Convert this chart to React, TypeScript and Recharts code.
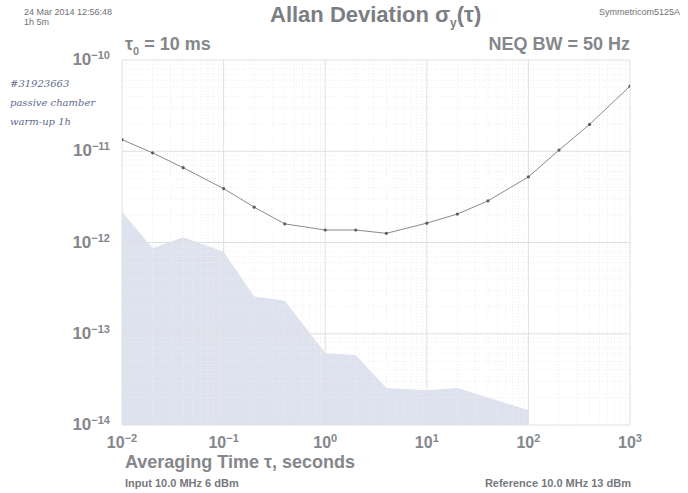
import { ComposedChart, Line, Area, XAxis, YAxis, ReferenceLine } from 'recharts'

// averaging times (s)
const tau = [0.01, 0.02, 0.04, 0.1, 0.2, 0.4, 1, 2, 4, 10, 20, 40, 100, 200, 400, 1000]
// measured Allan deviation
const adev = [
  1.34e-11, 9.6e-12, 6.6e-12, 3.9e-12, 2.44e-12, 1.6e-12, 1.37e-12, 1.37e-12, 1.26e-12,
  1.63e-12, 2.05e-12, 2.86e-12, 5.24e-12, 1.03e-11, 1.97e-11, 5.17e-11,
]
// noise floor (shaded), ends at 100 s
const floor = [
  2.17e-12, 8.65e-13, 1.14e-12, 7.9e-13, 2.56e-13, 2.3e-13, 6.15e-14, 5.8e-14, 2.55e-14,
  2.4e-14, 2.55e-14, 2.0e-14, 1.45e-14, null, null, null,
]

const xTicks = [0.01, 0.1, 1, 10, 100, 1000]
const xExp = ['−2', '−1', '0', '1', '2', '3']
const yTicks = [1e-14, 1e-13, 1e-12, 1e-11, 1e-10]
const yExp = ['−14', '−13', '−12', '−11', '−10']

const data = tau.map((t, i) => ({ tau: t, adev: adev[i], floor: floor[i] }))

const minorX: number[] = []
for (let d = -2; d < 3; d++) for (let m = 2; m < 10; m++) minorX.push(m * Math.pow(10, d))
const minorY: number[] = []
for (let d = -14; d < -10; d++) for (let m = 2; m < 10; m++) minorY.push(m * Math.pow(10, d))

const GRAY = '#84878b'
const FONT = '"Liberation Sans", Arial, sans-serif'

function XTick({ x, y, payload }: any) {
  const i = xTicks.indexOf(payload.value)
  return (
    <text x={x} y={y + 15} textAnchor="middle" fill={GRAY} fontFamily={FONT} fontWeight="bold" fontSize={16}>
      10<tspan fontSize={11} dy={-6}>{xExp[i]}</tspan>
    </text>
  )
}

function YTick({ x, y, payload }: any) {
  const i = yTicks.indexOf(payload.value)
  return (
    <text x={x} y={y + 5} textAnchor="end" fill={GRAY} fontFamily={FONT} fontWeight="bold" fontSize={17}>
      10<tspan fontSize={11} dy={-6}>{yExp[i]}</tspan>
    </text>
  )
}

const abs = (s: React.CSSProperties): React.CSSProperties => ({ position: 'absolute', margin: 0, whiteSpace: 'nowrap', ...s })

export default function App() {
  return (
    <div style={{ position: 'absolute', left: 0, top: 0, width: 688, height: 493, background: '#fff', fontFamily: FONT, color: GRAY }}>
      <ComposedChart width={688} height={493} data={data} margin={{ top: 60, right: 58, bottom: 40, left: 37 }}>
        <XAxis
          dataKey="tau"
          type="number"
          scale="log"
          domain={[0.01, 1000]}
          ticks={xTicks}
          tick={<XTick />}
          axisLine={false}
          tickLine={false}
          height={28}
          allowDataOverflow
        />
        <YAxis
          type="number"
          scale="log"
          domain={[1e-14, 1e-10]}
          ticks={yTicks}
          tick={<YTick />}
          axisLine={false}
          tickLine={false}
          width={85}
          tickMargin={6}
          allowDataOverflow
        />
        {minorY.map((v) => (
          <ReferenceLine key={'my' + v} y={v} stroke="#eeeef1" strokeDasharray="1 2" />
        ))}
        {minorX.map((v) => (
          <ReferenceLine key={'mx' + v} x={v} stroke="#eeeef1" strokeDasharray="1 2" />
        ))}
        {yTicks.map((v) => (
          <ReferenceLine key={'y' + v} y={v} stroke="#e0e0e4" />
        ))}
        {xTicks.map((v) => (
          <ReferenceLine key={'x' + v} x={v} stroke="#e0e0e4" />
        ))}
        <Area
          dataKey="floor"
          type="linear"
          stroke="none"
          fill="#dee1ee"
          fillOpacity={1}
          baseValue="dataMin"
          isAnimationActive={false}
        />
        <Line
          dataKey="adev"
          type="linear"
          stroke="#8a8a8e"
          strokeWidth={1}
          dot={{ r: 1.6, fill: '#5c5c62', stroke: 'none' }}
          activeDot={false}
          isAnimationActive={false}
        />
      </ComposedChart>

      <div style={abs({ left: 24, top: 7, fontSize: 9, lineHeight: '10px', color: '#6e7074' })}>
        24 Mar 2014 12:56:48<br />1h 5m
      </div>
      <div style={abs({ left: 270, top: 2, fontSize: 22, fontWeight: 'bold', color: '#7b7e83' })}>
        Allan Deviation σ<sub style={{ fontSize: 12 }}>y</sub>(τ)
      </div>
      <div style={abs({ right: 8, top: 7, fontSize: 9, color: '#6e7074' })}>Symmetricom5125A</div>
      <div style={abs({ left: 125, top: 34, fontSize: 18, fontWeight: 'bold' })}>
        τ<sub style={{ fontSize: 11 }}>0</sub> = 10 ms
      </div>
      <div style={abs({ right: 58, top: 34, fontSize: 18, fontWeight: 'bold' })}>NEQ BW = 50 Hz</div>

      <div style={abs({ left: 10, top: 74, fontSize: 10, lineHeight: '19px', fontStyle: 'italic', fontFamily: '"DejaVu Serif", serif', color: '#5d6a8c' })}>
        #31923663<br />passive chamber<br />warm-up 1h
      </div>

      <div style={abs({ left: 125, top: 452, fontSize: 18, fontWeight: 'bold' })}>Averaging Time τ, seconds</div>
      <div style={abs({ left: 125, top: 477, fontSize: 11, fontWeight: 'bold', color: '#76797d' })}>Input 10.0 MHz 6 dBm</div>
      <div style={abs({ right: 57, top: 477, fontSize: 11, fontWeight: 'bold', color: '#76797d' })}>Reference 10.0 MHz 13 dBm</div>
    </div>
  )
}
